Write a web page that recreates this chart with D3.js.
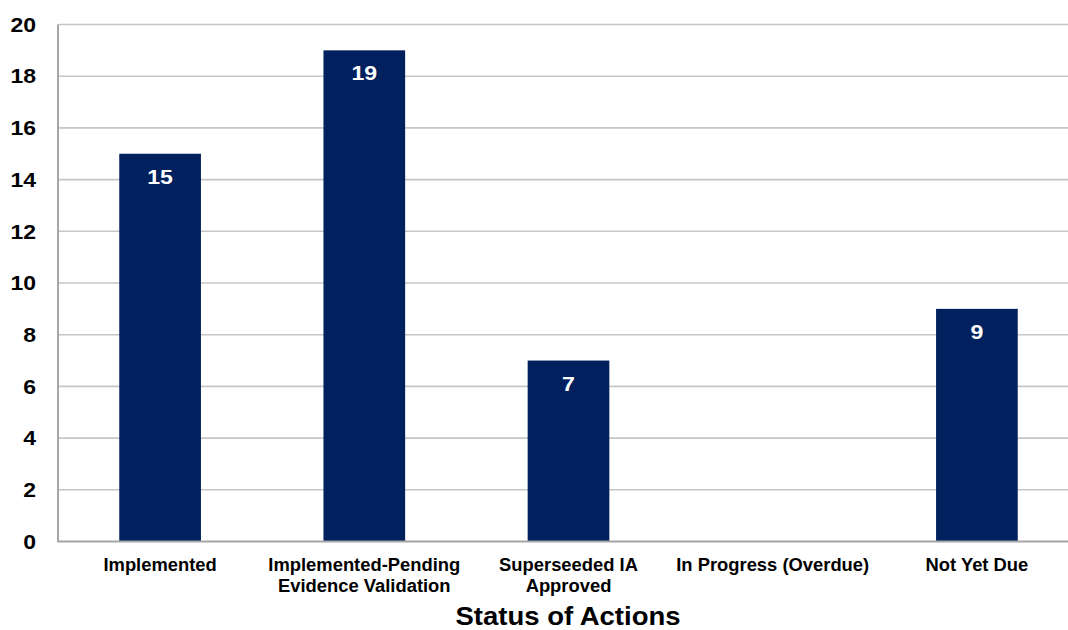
<!DOCTYPE html>
<html>
<head>
<meta charset="utf-8">
<script src="https://cdn.jsdelivr.net/npm/d3@7"></script>
<style>
  html, body { margin: 0; padding: 0; background: #fff; }
  svg { display: block; font-family: "Liberation Sans", Arial, sans-serif; }
</style>
</head>
<body>
<svg id="chart" width="1068" height="630"></svg>
<script>
// Action status counts
const categories = [
  ["Implemented"],
  ["Implemented-Pending", "Evidence Validation"],
  ["Superseeded IA", "Approved"],
  ["In Progress (Overdue)"],
  ["Not Yet Due"]
];
const values = [15, 19, 7, 0, 9];
const yTicks = [0, 2, 4, 6, 8, 10, 12, 14, 16, 18, 20];
const axisTitle = "Status of Actions";

const W = 1068, H = 630;
const svg = d3.select("#chart");

const keys = categories.map((c, i) => i);
const x = d3.scaleBand()
  .domain(keys)
  .range([58, 1079])
  .paddingInner(0.6)
  .paddingOuter(0.3);

const y = d3.scaleLinear()
  .domain([0, 20])
  .range([541.5, 24.5]);

// text placed at (px, py) and stretched a little horizontally
const at = (px, py, sx) => `translate(${px},${py}) scale(${sx},1)`;

// horizontal gridlines
svg.append("g")
  .selectAll("line")
  .data(yTicks.filter(d => d > 0))
  .join("line")
  .attr("x1", 58).attr("x2", W)
  .attr("y1", d => y(d)).attr("y2", d => y(d))
  .attr("stroke", "#c6c6c6")
  .attr("stroke-width", 1.6);

// bars
svg.append("g")
  .selectAll("rect")
  .data(values)
  .join("rect")
  .attr("x", (d, i) => x(i))
  .attr("width", x.bandwidth())
  .attr("y", d => y(d))
  .attr("height", d => y(0) - y(d))
  .attr("fill", "#00205e");

// value labels inside the bar tops
svg.append("g")
  .selectAll("text")
  .data(values.map((v, i) => ({ v, i })).filter(d => d.v > 0))
  .join("text")
  .attr("transform", d => at(x(d.i) + x.bandwidth() / 2, y(d.v) + 30, 1.1))
  .attr("text-anchor", "middle")
  .attr("fill", "#ffffff")
  .attr("font-weight", "bold")
  .attr("font-size", 21)
  .text(d => d.v);

// axes lines
svg.append("line")
  .attr("x1", 58).attr("x2", 58)
  .attr("y1", y(20)).attr("y2", y(0))
  .attr("stroke", "#a6a6a6").attr("stroke-width", 2);
svg.append("line")
  .attr("x1", 57).attr("x2", W)
  .attr("y1", y(0)).attr("y2", y(0))
  .attr("stroke", "#a6a6a6").attr("stroke-width", 2);

// y tick labels
svg.append("g")
  .selectAll("text")
  .data(yTicks)
  .join("text")
  .attr("transform", d => at(36, y(d), 1.15))
  .attr("dy", "0.36em")
  .attr("text-anchor", "end")
  .attr("font-weight", "bold")
  .attr("font-size", 20)
  .attr("fill", "#000")
  .text(d => d);

// category labels
svg.append("g")
  .selectAll("g")
  .data(categories)
  .join("g")
  .attr("transform", (d, i) => at(x(i) + x.bandwidth() / 2, 571, 1.05))
  .selectAll("text")
  .data(d => d)
  .join("text")
  .attr("y", (d, j) => j * 21)
  .attr("text-anchor", "middle")
  .attr("font-weight", "bold")
  .attr("font-size", 17.5)
  .attr("fill", "#000")
  .text(d => d);

// axis title
svg.append("text")
  .attr("transform", at(568, 625, 1.1))
  .attr("text-anchor", "middle")
  .attr("font-weight", "bold")
  .attr("font-size", 25)
  .attr("fill", "#000")
  .text(axisTitle);
</script>
</body>
</html>
